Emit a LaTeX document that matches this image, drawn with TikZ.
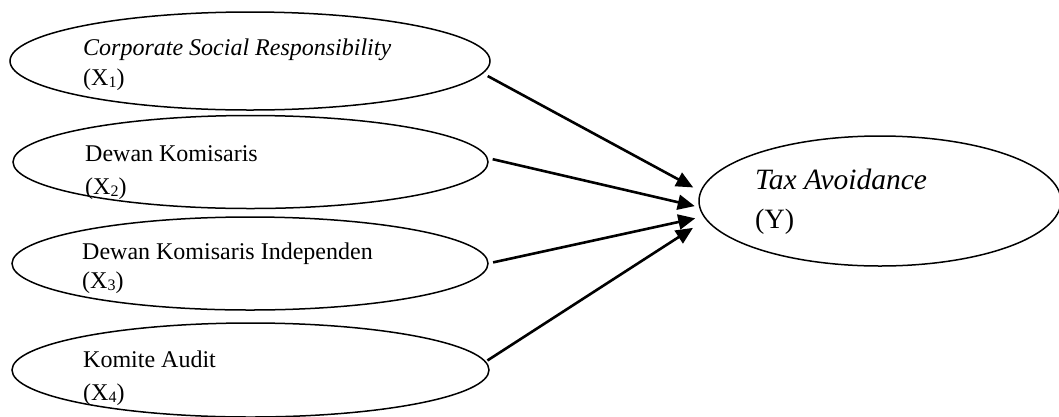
\documentclass[tikz,border=0pt]{standalone}
\usepackage{fontspec}
\setmainfont{Liberation Serif}
\usetikzlibrary{shapes.geometric,arrows.meta}
\newcommand{\mysub}[1]{\raisebox{-0.12em}{\fontsize{16}{16}\selectfont #1}}
\begin{document}
\begin{tikzpicture}[x=1pt,y=-1pt,
  var/.style={ellipse,draw,line width=1.5pt,inner sep=0pt,outer sep=0pt},
  lbl/.style={anchor=base west,inner sep=0pt,font=\fontsize{24}{28}\selectfont},
  ylbl/.style={anchor=base west,inner sep=0pt,font=\fontsize{28}{32}\selectfont},
  arr/.style={line width=2.6pt,-{Triangle[length=17pt,width=15pt]}}]
\useasboundingbox (0,0) rectangle (1059,416);
% independent variables
\node[var,minimum width=480pt,minimum height=98pt] (e1) at (250,61) {};
\node[var,minimum width=475pt,minimum height=93pt] (e2) at (250.5,162) {};
\node[var,minimum width=476pt,minimum height=93pt] (e3) at (250,263.5) {};
\node[var,minimum width=477pt,minimum height=94pt] (e4) at (250.5,370) {};
% dependent variable
\node[var,minimum width=362pt,minimum height=130pt] (y) at (880,201) {};
% labels
\node[lbl] (t1a) at (83,55) {\itshape Corporate Social Responsibility};
\node[lbl] (t1b) at (83,85) {(X\mysub{1})};
\node[lbl] (t2a) at (85,161) {Dewan Komisaris};
\node[lbl] (t2b) at (85,194) {(X\mysub{2})};
\node[lbl] (t3a) at (82,259) {Dewan Komisaris Independen};
\node[lbl] (t3b) at (82,288) {(X\mysub{3})};
\node[lbl] (t4a) at (83,367) {Komite Audit};
\node[lbl] (t4b) at (83,400) {(X\mysub{4})};
\node[ylbl,font=\fontsize{29.5}{32}\selectfont] (tya) at (755,189) {\itshape Tax Avoidance};
\node[ylbl] (tyb) at (755,228) {(Y)};
% arrows
\draw[arr,shorten <=6pt,shorten >=8.75pt] (e1.-3) -- (y.177);
\draw[arr,shorten <=5.75pt,shorten >=5.25pt] (e2.1) -- (y.182);
\draw[arr,shorten <=5.2pt,shorten >=9.1pt] (e3.0) -- (y.185);
\draw[arr,shorten <=2.5pt,shorten >=15.9pt] (e4.2) -- (y.186);
\end{tikzpicture}
\end{document}
